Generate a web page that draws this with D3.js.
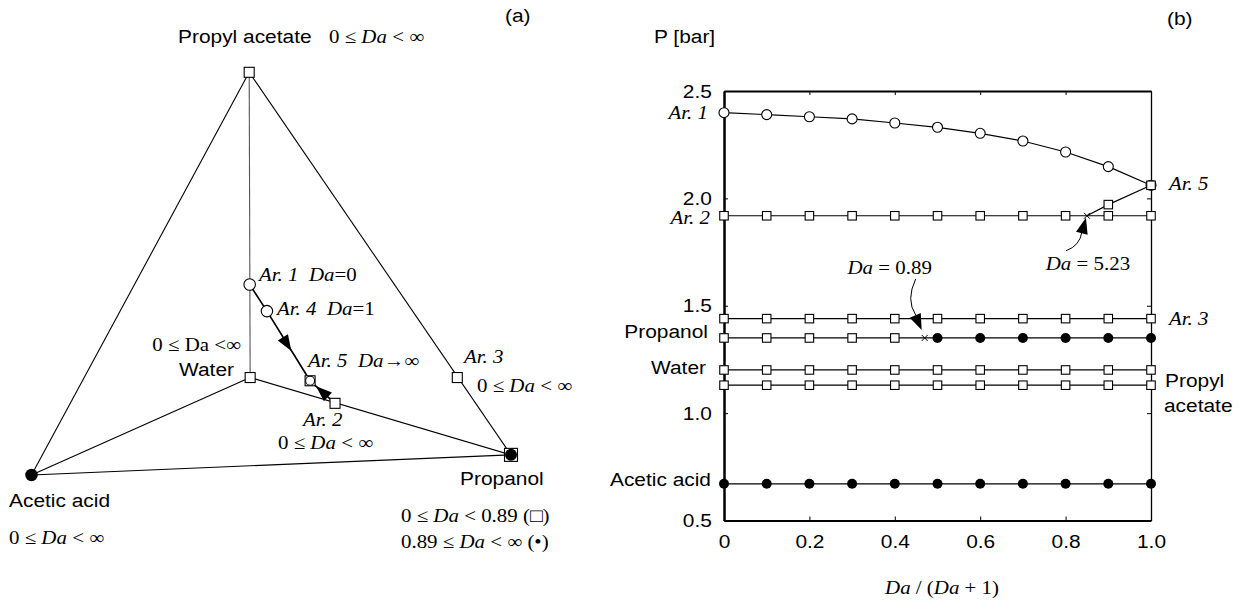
<!DOCTYPE html>
<meta charset="utf-8">
<style>
    body {
        margin: 0;
        background: #fff;
    }

    svg text {
        white-space: pre;
    }
</style>
<svg id="chart" width="1241" height="601"></svg>
<script src="https://cdn.jsdelivr.net/npm/d3@7"></script>
<script>
    // ---- panel (b) data: pressure [bar] vs Da/(Da+1) ----
    const daFrac = [0, 0.1, 0.2, 0.3, 0.4, 0.5, 0.6, 0.7, 0.8, 0.9, 1.0];
    const pAr1 = [2.399, 2.390, 2.380, 2.370, 2.351, 2.331, 2.303, 2.267, 2.216, 2.148, 2.061];
    const pAr2 = [1.919, 1.919, 1.919, 1.919, 1.919, 1.919, 1.919, 1.919, 1.919, 1.919, 1.919];
    const pAr3 = [1.440, 1.440, 1.440, 1.440, 1.440, 1.440, 1.440, 1.440, 1.440, 1.440, 1.440];
    const pPropanol = [1.350, 1.350, 1.350, 1.350, 1.350, 1.350, 1.350, 1.350, 1.350, 1.350, 1.350];
    const pWater = [1.201, 1.201, 1.201, 1.201, 1.201, 1.201, 1.201, 1.201, 1.201, 1.201, 1.201];
    const pPropylAcetate = [1.130, 1.130, 1.130, 1.130, 1.130, 1.130, 1.130, 1.130, 1.130, 1.130, 1.130];
    const pAceticAcid = [0.671, 0.671, 0.671, 0.671, 0.671, 0.671, 0.671, 0.671, 0.671, 0.671, 0.671];
    // Ar. 2 branch that merges into Ar. 5 after Da = 5.23
    const ar2BranchX = [0.85, 0.9, 1.0];
    const ar2BranchP = [1.919, 1.971, 2.061];
    const propanolSwitch = 0.47; // Da = 0.89
    const yTicks = [0.5, 1.0, 1.5, 2.0, 2.5];
    const xTicks = [0, 0.2, 0.4, 0.6, 0.8, 1.0];

    // ---- panel (a) data: projected composition diagram ----
    const vertexNames = ["Acetic acid", "Propanol", "Propyl acetate", "Water"];
    const vertexPos = [[0, 0], [1, 0.050], [0.454, 1], [0.456, 0.242]];
    const edges = [[0, 1], [0, 2], [1, 2], [0, 3], [1, 3], [2, 3]];
    const azeoNames = ["Ar. 1", "Ar. 2", "Ar. 3", "Ar. 4", "Ar. 5"];
    const azeoPos = [[0.455, 0.473], [0.633, 0.178], [0.888, 0.242], [0.491, 0.407], [0.581, 0.234]];

    const SANS = "'Liberation Sans', Arial, sans-serif";
    const SERIF = "'Liberation Serif', 'Times New Roman', serif";
    const FS = 19;      // font size
    const SX = 1.1;     // the original lettering is a bit wide

    const svg = d3.select("#chart");

    function label(g, x, y, parts, o = {}) {
        const t = g.append("text")
            .attr("transform", `translate(${x},${y}) scale(${SX},1)`)
            .attr("text-anchor", o.anchor || "start")
            .attr("font-family", o.font || SANS)
            .attr("font-size", o.size || FS)
            .attr("fill", "#000");
        if (typeof parts === "string") parts = [[parts]];
        parts.forEach(([s, it]) => {
            t.append("tspan").text(s).attr("font-style", it ? "italic" : null);
        });
        return t;
    }

    function marker(g, kind, x, y, sz) {
        if (kind === "square" || kind === "squarecircle" || kind === "squaredot") {
            g.append("rect").attr("x", x - sz / 2).attr("y", y - sz / 2)
                .attr("width", sz).attr("height", sz)
                .attr("fill", "#fff").attr("stroke", "#000").attr("stroke-width", 1.1);
        }
        if (kind === "circle" || kind === "squarecircle") {
            g.append("circle").attr("cx", x).attr("cy", y).attr("r", kind === "circle" ? sz / 2 : sz / 2 - 0.5)
                .attr("fill", "#fff").attr("stroke", "#000").attr("stroke-width", 1.1);
        }
        if (kind === "dot" || kind === "squaredot") {
            g.append("circle").attr("cx", x).attr("cy", y).attr("r", sz / 2)
                .attr("fill", "#000");
        }
        if (kind === "cross") {
            const h = sz / 2;
            g.append("path").attr("d", `M${x - h},${y - h}L${x + h},${y + h}M${x + h},${y - h}L${x - h},${y + h}`)
                .attr("stroke", "#000").attr("stroke-width", 1);
        }
    }

    function arrowHead(g, tip, from, len = 15, half = 5) {
        const dx = tip[0] - from[0], dy = tip[1] - from[1], L = Math.hypot(dx, dy);
        const ux = dx / L, uy = dy / L;
        const bx = tip[0] - ux * len, by = tip[1] - uy * len;
        g.append("path")
            .attr("d", `M${tip[0]},${tip[1]}L${bx - uy * half},${by + ux * half}L${bx + uy * half},${by - ux * half}Z`)
            .attr("fill", "#000");
    }

    // ================= panel (a) =================
    const gA = svg.append("g");
    const xL = d3.scaleLinear().domain([0, 1]).range([31.5, 511]);
    const yL = d3.scaleLinear().domain([0, 1]).range([475, 72.3]);
    const P = d => [xL(d[0]), yL(d[1])];

    edges.forEach(([a, b]) => {
        const pa = P(vertexPos[a]), pb = P(vertexPos[b]);
        gA.append("line")
            .attr("x1", pa[0]).attr("y1", pa[1]).attr("x2", pb[0]).attr("y2", pb[1])
            .attr("stroke", (a === 2 && b === 3) ? "#555" : "#000")
            .attr("stroke-width", 1.1);
    });

    // trajectories of the reactive azeotropes
    const a1 = P(azeoPos[0]), a2 = P(azeoPos[1]), a4 = P(azeoPos[3]), a5 = P(azeoPos[4]);
    gA.append("path").attr("d", d3.line()([a1, a4, a5]))
        .attr("fill", "none").attr("stroke", "#000").attr("stroke-width", 1.7);
    gA.append("path").attr("d", d3.line()([a2, a5]))
        .attr("fill", "none").attr("stroke", "#000").attr("stroke-width", 1.7);
    const along = (p, q, t) => [p[0] + (q[0] - p[0]) * t, p[1] + (q[1] - p[1]) * t];
    arrowHead(gA, along(a1, a5, 0.69), a1, 16, 6);
    arrowHead(gA, along(a2, a5, 0.76), a2, 16, 6);

    // vertices
    const vKind = ["dot", "squaredot", "square", "square"];
    const vSize = [12.5, 12.5, 10, 10];
    vertexPos.forEach((d, i) => {
        const p = P(d);
        if (vKind[i] === "squaredot") {
            marker(gA, "square", p[0], p[1], 13);
            marker(gA, "dot", p[0], p[1], 12);
        } else marker(gA, vKind[i], p[0], p[1], vSize[i]);
    });
    // azeotropes
    const aKind = ["circle", "square", "square", "circle", "squarecircle"];
    azeoPos.forEach((d, i) => {
        const p = P(d);
        marker(gA, aKind[i], p[0], p[1], aKind[i] === "circle" ? 11.5 : 10);
    });

    // texts of panel (a)
    const range = [["0 \u2264 "], ["Da", true], [" < \u221e"]];
    label(gA, 505, 22, "(a)");
    label(gA, 178, 43, vertexNames[2]);
    label(gA, 329, 43, range, {font: SERIF});
    label(gA, 259, 281, [[azeoNames[0] + "  ", true], ["Da", true], ["=0"]], {font: SERIF});
    label(gA, 277, 315, [[azeoNames[3] + "  ", true], ["Da", true], ["=1"]], {font: SERIF});
    label(gA, 241, 351, "0 \u2264 Da <\u221e", {font: SERIF, anchor: "end"});
    label(gA, 234, 376, vertexNames[3], {anchor: "end"});
    label(gA, 308, 367, [[azeoNames[4] + "  ", true], ["Da", true], ["\u2192\u221e"]], {font: SERIF});
    label(gA, 464, 363, [[azeoNames[2], true]], {font: SERIF});
    label(gA, 477, 392, range, {font: SERIF});
    label(gA, 303, 426, [[azeoNames[1], true]], {font: SERIF});
    label(gA, 278, 449, range, {font: SERIF});
    label(gA, 9, 507, vertexNames[0]);
    label(gA, 9, 544, range, {font: SERIF});
    label(gA, 460, 485, vertexNames[1]);
    label(gA, 401, 522, [["0 \u2264 "], ["Da", true], [" < 0.89 ("], ["\u25a1"], [")"]], {font: SERIF});
    label(gA, 401, 548, [["0.89 \u2264 "], ["Da", true], [" < \u221e (\u2022)"]], {font: SERIF});

    // ================= panel (b) =================
    const gB = svg.append("g");
    const xR = d3.scaleLinear().domain([0, 1]).range([724, 1151]);
    const yR = d3.scaleLinear().domain([0.5, 2.5]).range([520.5, 91]);

    function styleAxis(g, w, labels) {
        g.select(".domain").attr("stroke-width", w);
        g.selectAll(".tick line").attr("stroke-width", 1);
        if (!labels) g.selectAll(".tick text").remove();
        else g.selectAll(".tick text")
            .attr("font-family", SANS).attr("font-size", FS).attr("fill", "#000")
            .attr("transform", `scale(${SX},1)`);
    }

    gB.append("g").attr("transform", `translate(0,${yR(2.5)})`)
        .call(d3.axisTop(xR).tickValues(xTicks).tickSize(-4).tickSizeOuter(0))
        .call(g => styleAxis(g, 2, false));
    gB.append("g").attr("transform", `translate(${xR(1)},0)`)
        .call(d3.axisRight(yR).tickValues(yTicks).tickSize(-4).tickSizeOuter(0))
        .call(g => styleAxis(g, 1.3, false));
    gB.append("g").attr("transform", `translate(0,${yR(0.5)})`)
        .call(d3.axisBottom(xR).tickValues(xTicks).tickSize(-4).tickSizeOuter(0).tickPadding(14)
            .tickFormat(d => d === 0 ? "0" : d3.format(".1f")(d)))
        .call(g => styleAxis(g, 2, true));
    gB.append("g").attr("transform", `translate(${xR(0)},0)`)
        .call(d3.axisLeft(yR).tickValues(yTicks).tickSize(-4).tickSizeOuter(0).tickPadding(11)
            .tickFormat(d3.format(".1f")))
        .call(g => styleAxis(g, 2.5, true));

    const line = d3.line().x(d => xR(d[0])).y(d => yR(d[1]));
    const series = [
        {p: pAr1, kind: () => "circle"},
        {p: pAr2, kind: () => "square"},
        {p: pAr3, kind: () => "square"},
        {p: pPropanol, kind: x => x < propanolSwitch ? "square" : "dot"},
        {p: pWater, kind: () => "square"},
        {p: pPropylAcetate, kind: () => "square"},
        {p: pAceticAcid, kind: () => "dot"}
    ];
    const branch = ar2BranchX.map((x, i) => [x, ar2BranchP[i]]);

    series.forEach(s => {
        gB.append("path").attr("d", line(daFrac.map((x, i) => [x, s.p[i]])))
            .attr("fill", "none").attr("stroke", "#000").attr("stroke-width", 1.2);
    });
    gB.append("path").attr("d", line(branch))
        .attr("fill", "none").attr("stroke", "#000").attr("stroke-width", 1.2);

    series.forEach(s => {
        daFrac.forEach((x, i) => {
            const k = s.kind(x);
            marker(gB, k, xR(x), yR(s.p[i]), k === "square" ? 8.5 : 10);
        });
    });
    branch.forEach((d, i) => marker(gB, i === 0 ? "cross" : "square", xR(d[0]), yR(d[1]), i === 0 ? 6 : 8.5));
    marker(gB, "cross", xR(propanolSwitch), yR(pPropanol[0]), 6);

    // annotations
    const c89 = [xR(propanolSwitch), yR(pPropanol[0])];
    label(gB, c89[0] - 35, 274, [["Da", true], [" = 0.89"]], {font: SERIF, anchor: "middle"});
    gB.append("path").attr("d", `M${c89[0] - 9},${c89[1] - 59} Q${c89[0] - 19},${c89[1] - 38} ${c89[0] - 9},${c89[1] - 23}`)
        .attr("fill", "none").attr("stroke", "#000").attr("stroke-width", 1);
    arrowHead(gB, [c89[0] - 3, c89[1] - 8], [c89[0] - 10, c89[1] - 24], 16, 6);

    const c523 = [xR(ar2BranchX[0]), yR(ar2BranchP[0])];
    label(gB, c523[0] + 1, 270, [["Da", true], [" = 5.23"]], {font: SERIF, anchor: "middle"});
    gB.append("path").attr("d", `M${c523[0] - 21},${c523[1] + 35} Q${c523[0] - 7},${c523[1] + 30} ${c523[0] - 5},${c523[1] + 16}`)
        .attr("fill", "none").attr("stroke", "#000").attr("stroke-width", 1);
    arrowHead(gB, [c523[0] - 1, c523[1] + 2], [c523[0] - 5, c523[1] + 17], 16, 6);

    label(gB, 654, 43, "P [bar]");
    label(gB, 1167, 25, "(b)");
    label(gB, 708, yR(pAr1[0]) + 6, [["Ar. 1", true]], {font: SERIF, anchor: "end"});
    label(gB, 710, yR(pAr2[0]) + 8, [["Ar. 2", true]], {font: SERIF, anchor: "end"});
    label(gB, 708, yR(pPropanol[0]), "Propanol", {anchor: "end"});
    label(gB, 706, yR(pWater[0]) + 4, "Water", {anchor: "end"});
    label(gB, 711, yR(pAceticAcid[0]) + 2, "Acetic acid", {anchor: "end"});
    label(gB, 1169, yR(pAr1[10]) + 5, [["Ar. 5", true]], {font: SERIF});
    label(gB, 1169, yR(pAr3[10]) + 6, [["Ar. 3", true]], {font: SERIF});
    label(gB, 1165, 387, "Propyl");
    label(gB, 1164, 412, "acetate");
    label(gB, 942, 594, [["Da", true], [" / ("], ["Da", true], [" + 1)"]], {font: SERIF, anchor: "middle"});
</script>
